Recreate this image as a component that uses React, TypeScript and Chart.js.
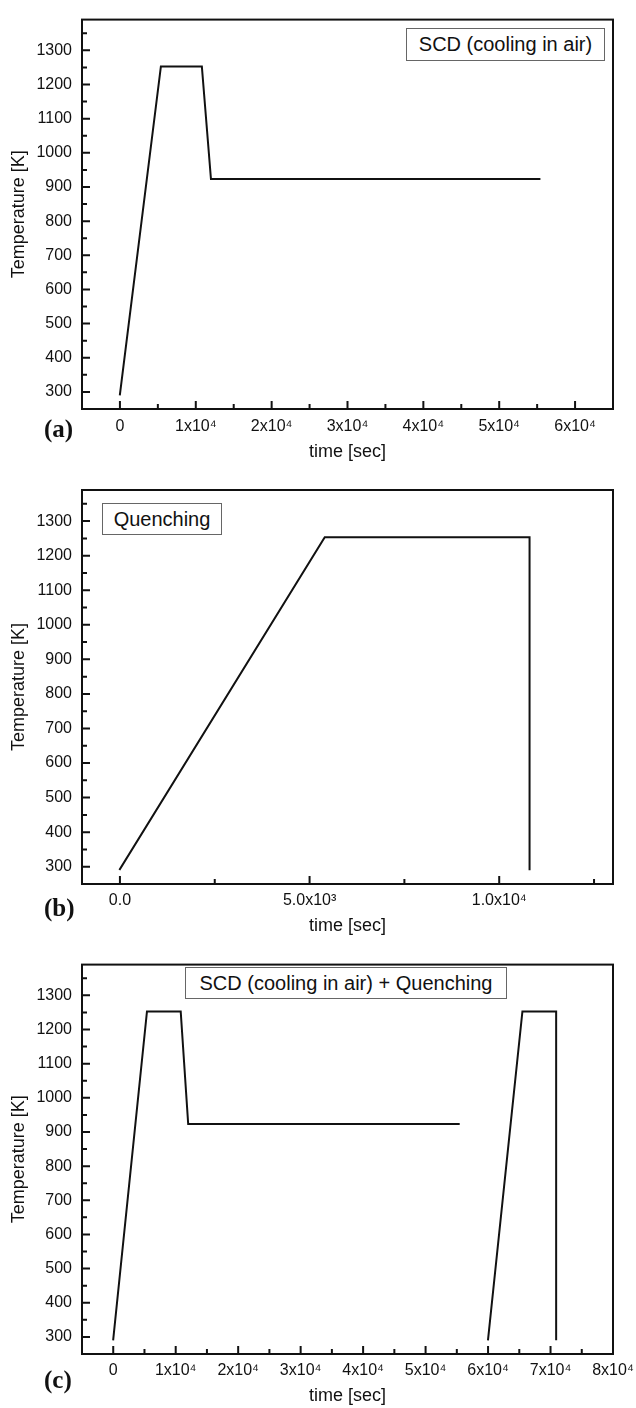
import { useEffect, useRef } from 'react';
import { Chart, registerables } from 'chart.js';

Chart.register(...registerables);

// Heat-treatment schedules: time in seconds, temperature in kelvin
const A_TIME = [0, 5400, 10800, 12000, 55300];
const A_TEMP = [293, 1253, 1253, 923, 923];

const B_TIME = [0, 5400, 10800, 10800];
const B_TEMP = [293, 1253, 1253, 293];

const C_SCD_TIME = [0, 5400, 10800, 12000, 55300];
const C_SCD_TEMP = [293, 1253, 1253, 923, 923];
const C_QUENCH_TIME = [60000, 65500, 70900, 70900];
const C_QUENCH_TEMP = [293, 1253, 1253, 293];

// Axis ticks (minor ticks carry an empty label)
const TEMP_TICKS = [300, 350, 400, 450, 500, 550, 600, 650, 700, 750, 800, 850, 900, 950, 1000, 1050, 1100, 1150, 1200, 1250, 1300, 1350];
const TEMP_LABELS = ['300', '', '400', '', '500', '', '600', '', '700', '', '800', '', '900', '', '1000', '', '1100', '', '1200', '', '1300', ''];

const A_TIME_TICKS = [0, 5000, 10000, 15000, 20000, 25000, 30000, 35000, 40000, 45000, 50000, 55000, 60000];
const A_TIME_LABELS = ['0', '', '1x10⁴', '', '2x10⁴', '', '3x10⁴', '', '4x10⁴', '', '5x10⁴', '', '6x10⁴'];

const B_TIME_TICKS = [0, 2500, 5000, 7500, 10000, 12500];
const B_TIME_LABELS = ['0.0', '', '5.0x10³', '', '1.0x10⁴', ''];

const C_TIME_TICKS = [0, 5000, 10000, 15000, 20000, 25000, 30000, 35000, 40000, 45000, 50000, 55000, 60000, 65000, 70000, 75000, 80000];
const C_TIME_LABELS = ['0', '', '1x10⁴', '', '2x10⁴', '', '3x10⁴', '', '4x10⁴', '', '5x10⁴', '', '6x10⁴', '', '7x10⁴', '', '8x10⁴'];

const SANS = '"Liberation Sans", Arial, sans-serif';
const SERIF = '"Liberation Serif", "Times New Roman", serif';
const INK = '#111';
const CANVAS_W = 700;
const AREA_LEFT = 82;
const AREA_RIGHT = 613;

type Series = { time: number[]; temp: number[] };
type PanelSpec = {
  top: number;
  height: number;
  padTop: number;
  xAxisHeight: number;
  xTickPad: number;
  xTitlePad: number;
  xMin: number;
  xMax: number;
  xTicks: number[];
  xLabels: string[];
  series: Series[];
  letter: string;
  letterY: number;
  box: { text: string; left: number; top: number; width: number; height: number };
};

// Inward tick marks and the closed frame around the plot area
const frameAndTicks = {
  id: 'frameAndTicks',
  afterDatasetsDraw(chart: any) {
    const { ctx, chartArea: a } = chart;
    const xs = chart.scales.x;
    const ys = chart.scales.y;
    ctx.save();
    ctx.strokeStyle = INK;
    ctx.lineWidth = 2;
    ctx.beginPath();
    xs.ticks.forEach((t: any) => {
      const px = xs.getPixelForValue(t.value);
      const len = t.label ? 8 : 5;
      ctx.moveTo(px, a.bottom);
      ctx.lineTo(px, a.bottom - len);
    });
    ys.ticks.forEach((t: any) => {
      const py = ys.getPixelForValue(t.value);
      const len = t.label ? 8 : 5;
      ctx.moveTo(a.left, py);
      ctx.lineTo(a.left + len, py);
    });
    ctx.stroke();
    ctx.strokeRect(a.left, a.top, a.right - a.left, a.bottom - a.top);
    ctx.restore();
  },
};

const PANELS: PanelSpec[] = [
  {
    top: 0, height: 470, padTop: 15, xAxisHeight: 61, xTickPad: 8, xTitlePad: 7.2,
    xMin: -5000, xMax: 65000, xTicks: A_TIME_TICKS, xLabels: A_TIME_LABELS,
    series: [{ time: A_TIME, temp: A_TEMP }],
    letter: '(a)', letterY: 429,
    box: { text: 'SCD (cooling in air)', left: 406, top: 28, width: 199, height: 33 },
  },
  {
    top: 470, height: 475, padTop: 20, xAxisHeight: 61, xTickPad: 7, xTitlePad: 8.2,
    xMin: -1000, xMax: 13000, xTicks: B_TIME_TICKS, xLabels: B_TIME_LABELS,
    series: [{ time: B_TIME, temp: B_TEMP }],
    letter: '(b)', letterY: 908,
    box: { text: 'Quenching', left: 102, top: 503, width: 120, height: 32 },
  },
  {
    top: 945, height: 463, padTop: 18, xAxisHeight: 54, xTickPad: 7, xTitlePad: 1.2,
    xMin: -5000, xMax: 80000, xTicks: C_TIME_TICKS, xLabels: C_TIME_LABELS,
    series: [
      { time: C_SCD_TIME, temp: C_SCD_TEMP },
      { time: C_QUENCH_TIME, temp: C_QUENCH_TEMP },
    ],
    letter: '(c)', letterY: 1380,
    box: { text: 'SCD (cooling in air) + Quenching', left: 185, top: 967, width: 322, height: 32 },
  },
];

function Panel({ spec }: { spec: PanelSpec }) {
  const ref = useRef<HTMLCanvasElement | null>(null);

  useEffect(() => {
    if (!ref.current) return;
    const labelFor = (ticks: number[], labels: string[]) => (v: any) => {
      const i = ticks.indexOf(Number(v));
      return i >= 0 ? labels[i] : '';
    };
    const chart = new Chart(ref.current, {
      type: 'line',
      data: {
        datasets: spec.series.map((s) => ({
          data: s.time.map((t, i) => ({ x: t, y: s.temp[i] })),
          borderColor: INK,
          borderWidth: 2,
          pointRadius: 0,
          fill: false,
          tension: 0,
          borderCapStyle: 'square' as const,
        })),
      },
      options: {
        animation: false,
        responsive: false,
        devicePixelRatio: 1,
        layout: { padding: { top: spec.padTop, right: CANVAS_W - AREA_RIGHT, left: 0, bottom: 0 } },
        plugins: { legend: { display: false }, tooltip: { enabled: false } },
        scales: {
          x: {
            type: 'linear',
            min: spec.xMin,
            max: spec.xMax,
            afterBuildTicks: (s: any) => { s.ticks = spec.xTicks.map((v) => ({ value: v })); },
            afterFit: (s: any) => { s.height = spec.xAxisHeight; },
            grid: { display: false, drawTicks: false },
            border: { display: false },
            ticks: {
              autoSkip: false,
              maxRotation: 0,
              padding: spec.xTickPad,
              color: INK,
              font: { family: SANS, size: 16 },
              callback: labelFor(spec.xTicks, spec.xLabels),
            },
            title: {
              display: true,
              text: 'time [sec]',
              color: INK,
              font: { family: SANS, size: 18 },
              padding: { top: 0, bottom: spec.xTitlePad },
            },
          },
          y: {
            type: 'linear',
            min: 250,
            max: 1390,
            afterBuildTicks: (s: any) => { s.ticks = TEMP_TICKS.map((v) => ({ value: v })); },
            afterFit: (s: any) => { s.width = AREA_LEFT; },
            grid: { display: false, drawTicks: false },
            border: { display: false },
            ticks: {
              autoSkip: false,
              padding: 10,
              color: INK,
              font: { family: SANS, size: 16 },
              callback: labelFor(TEMP_TICKS, TEMP_LABELS),
            },
            title: {
              display: true,
              text: 'Temperature [K]',
              color: INK,
              font: { family: SANS, size: 18 },
              padding: { top: 8, bottom: 0 },
            },
          },
        },
      },
      plugins: [frameAndTicks],
    } as any);
    return () => chart.destroy();
  }, [spec]);

  return (
    <>
      <canvas
        ref={ref}
        width={CANVAS_W}
        height={spec.height}
        style={{ position: 'absolute', left: 0, top: spec.top, width: CANVAS_W, height: spec.height }}
      />
      <div
        style={{
          position: 'absolute',
          left: spec.box.left,
          top: spec.box.top,
          width: spec.box.width,
          height: spec.box.height,
          boxSizing: 'border-box',
          border: '1px solid #666',
          background: '#fff',
          display: 'flex',
          alignItems: 'center',
          justifyContent: 'center',
          fontFamily: SANS,
          fontSize: 20,
          color: INK,
          whiteSpace: 'nowrap',
        }}
      >
        {spec.box.text}
      </div>
      <div
        style={{
          position: 'absolute',
          left: 44,
          top: spec.letterY - 13,
          height: 26,
          lineHeight: '26px',
          fontFamily: SERIF,
          fontWeight: 'bold',
          fontSize: 25,
          color: INK,
        }}
      >
        {spec.letter}
      </div>
    </>
  );
}

export default function App() {
  return (
    <div
      style={{
        position: 'absolute',
        left: 0,
        top: 0,
        width: 636,
        height: 1408,
        overflow: 'hidden',
        background: '#fff',
      }}
    >
      {PANELS.map((p) => (
        <Panel key={p.letter} spec={p} />
      ))}
    </div>
  );
}
